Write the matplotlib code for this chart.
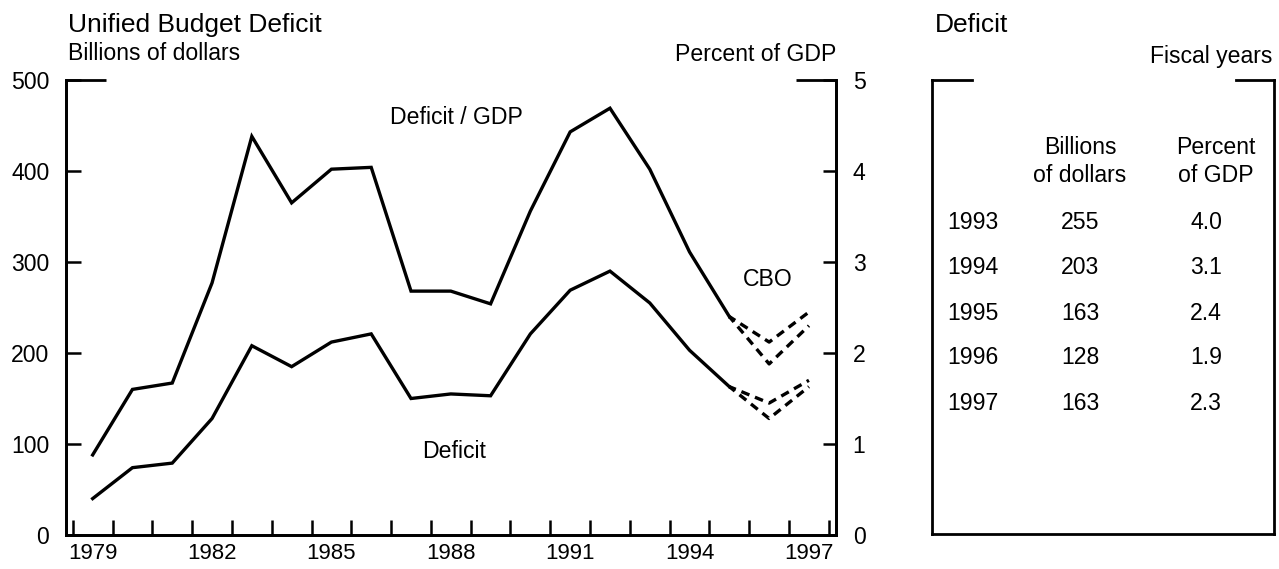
import numpy as np
import matplotlib
matplotlib.use("Agg")
import matplotlib.pyplot as plt
from matplotlib.lines import Line2D

plt.rcParams['font.family'] = ['Liberation Sans', 'DejaVu Sans']

# data
years = [1979, 1980, 1981, 1982, 1983, 1984, 1985, 1986, 1987,
         1988, 1989, 1990, 1991, 1992, 1993, 1994, 1995]
deficit_bn = [40, 74, 79, 128, 208, 185, 212, 221, 150,
              155, 153, 221, 269, 290, 255, 203, 163]
deficit_pct = [0.88, 1.60, 1.67, 2.77, 4.38, 3.65, 4.02, 4.04, 2.68,
               2.68, 2.54, 3.56, 4.43, 4.69, 4.02, 3.11, 2.40]

proj_years = [1995, 1996, 1997]
cbo_bn = [163, 128, 163]
alt_bn = [163, 145, 170]
cbo_pct = [2.40, 1.88, 2.30]
alt_pct = [2.40, 2.12, 2.45]

tick_years = [1979, 1982, 1985, 1988, 1991, 1994, 1997]
bn_ticks = [0, 100, 200, 300, 400, 500]
pct_ticks = [0, 1, 2, 3, 4, 5]

table_years = ['1993', '1994', '1995', '1996', '1997']
table_bn = ['255', '203', '163', '128', '163']
table_pct = ['4.0', '3.1', '2.4', '1.9', '2.3']

W, H = 1279, 569
FS = 16.6
FS_HEAD = 19
LW = 2.4


def px(x, y):
    return x / W, 1 - y / H


fig = plt.figure(figsize=(W / 100, H / 100), dpi=100)

# left panel
ax = fig.add_axes([66 / W, (H - 535) / H, (836 - 66) / W, (535 - 80) / H])
ax.set_xlim(1978.33, 1997.68)
ax.set_ylim(0, 500)
ax.spines['top'].set_visible(False)
for s in ['left', 'bottom', 'right']:
    ax.spines[s].set_linewidth(2.0)

ax.plot(years, deficit_bn, color='black', lw=LW, solid_joinstyle='miter')
ax.plot(proj_years, cbo_bn, color='black', lw=LW, ls=(0.5, (2.6, 1.8)))
ax.plot(proj_years, alt_bn, color='black', lw=LW, ls=(0.5, (2.6, 1.8)))

ax2 = ax.twinx()
ax2.set_ylim(0, 5)
ax2.spines['top'].set_visible(False)
for s in ['left', 'bottom', 'right']:
    ax2.spines[s].set_linewidth(2.0)
ax2.plot(years, deficit_pct, color='black', lw=LW, solid_joinstyle='miter')
ax2.plot(proj_years, cbo_pct, color='black', lw=LW, ls=(0.5, (2.6, 1.8)))
ax2.plot(proj_years, alt_pct, color='black', lw=LW, ls=(0.5, (2.6, 1.8)))

# top stubs in place of a full top spine
x0, x1 = ax.get_xlim()
ax.plot([x0, x0 + 1.0], [500, 500], color='black', lw=2.0, clip_on=False,
        solid_capstyle='butt')
ax.plot([x1 - 1.0, x1], [500, 500], color='black', lw=2.0, clip_on=False,
        solid_capstyle='butt')

# x ticks: marks between years, labels on years
ax.set_xticks(np.arange(1978.5, 1998, 1.0))
ax.set_xticklabels([])
ax.tick_params(axis='x', which='major', direction='in', length=10.5,
               width=1.8)
ax.set_xticks(tick_years, minor=True)
ax.set_xticklabels([str(y) for y in tick_years], minor=True)
ax.tick_params(axis='x', which='minor', length=0, pad=6, labelsize=16)

ax.set_yticks(bn_ticks)
ax.set_yticklabels([str(v) for v in bn_ticks])
ax.tick_params(axis='y', direction='in', length=10.5, width=1.8, pad=12,
               labelsize=FS)
ax2.set_yticks(pct_ticks)
ax2.set_yticklabels([str(v) for v in pct_ticks])
ax2.tick_params(axis='y', direction='in', length=9.5, width=1.8, pad=12,
                labelsize=FS)

ax.text(1988.13, 459, 'Deficit / GDP', fontsize=FS, ha='center', va='center')
ax.text(1988.08, 92, 'Deficit', fontsize=FS, ha='center', va='center')
ax.text(1995.97, 281, 'CBO', fontsize=FS, ha='center', va='center')

fig.text(*px(68, 32), 'Unified Budget Deficit', fontsize=FS_HEAD,
         ha='left', va='baseline')
fig.text(*px(68, 60), 'Billions of dollars', fontsize=FS, ha='left',
         va='baseline')
fig.text(*px(836, 61), 'Percent of GDP', fontsize=FS, ha='right',
         va='baseline')

# right panel: table box
fig.text(*px(935, 32), 'Deficit', fontsize=FS_HEAD, ha='left', va='baseline')
fig.text(*px(1272, 63), 'Fiscal years', fontsize=FS, ha='right',
         va='baseline')

bl, br, bt, bb = 932, 1274, 80, 534
box = [([bl, bl], [bt, bb]), ([bl, br], [bb, bb]), ([br, br], [bb, bt]),
       ([bl, bl + 40], [bt, bt]), ([br - 38, br], [bt, bt])]
for xs, ys in box:
    fig.add_artist(Line2D([x / W for x in xs], [1 - y / H for y in ys],
                          color='black', lw=2.0, solid_capstyle='projecting'))

fig.text(*px(1080, 147), 'Billions', fontsize=FS, ha='center', va='center')
fig.text(*px(1080, 176), 'of dollars', fontsize=FS, ha='center', va='center')
fig.text(*px(1216, 147), 'Percent', fontsize=FS, ha='center', va='center')
fig.text(*px(1216, 176), 'of GDP', fontsize=FS, ha='center', va='center')

for i in range(len(table_years)):
    y = 223 + 45 * i
    fig.text(*px(947, y), table_years[i], fontsize=FS, ha='left', va='center')
    fig.text(*px(1080, y), table_bn[i], fontsize=FS, ha='center', va='center')
    fig.text(*px(1206, y), table_pct[i], fontsize=FS, ha='center',
             va='center')

fig.savefig('out.png', dpi=100)
